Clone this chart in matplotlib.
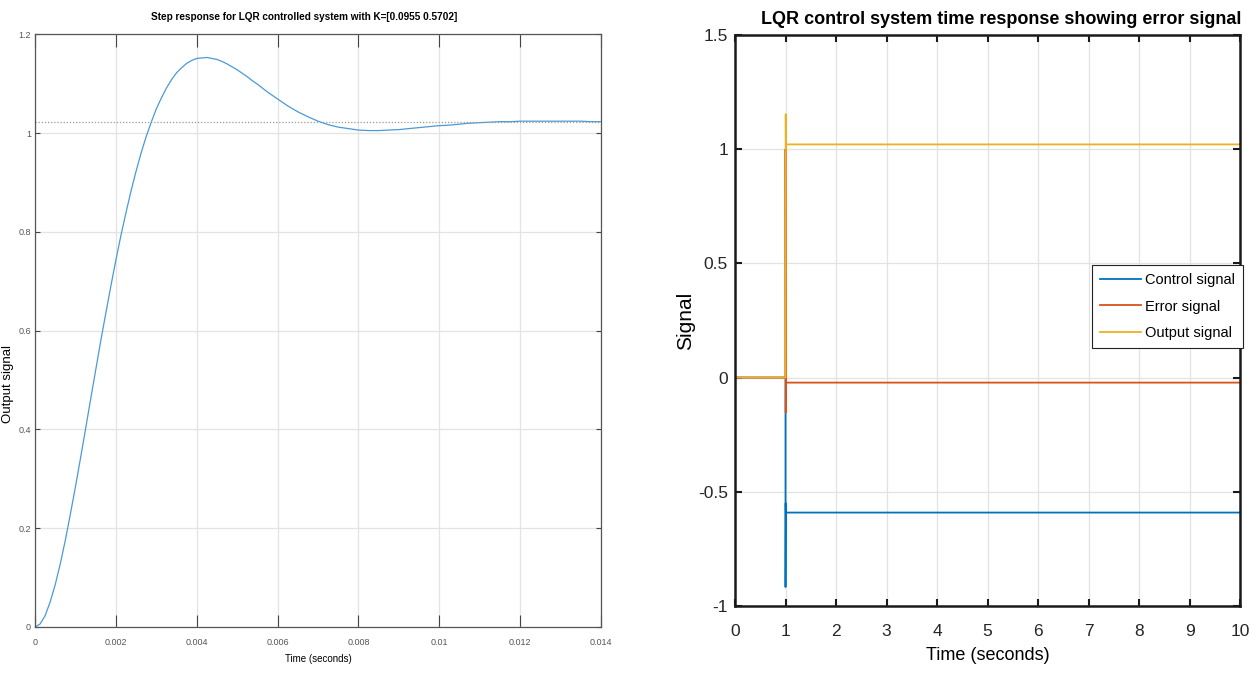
import matplotlib
matplotlib.use("Agg")
import matplotlib.pyplot as plt

plt.rcParams["font.family"] = ["Liberation Sans", "DejaVu Sans"]
plt.rcParams["axes.unicode_minus"] = False

# ---- left panel: step response
# finer spacing on the fast rise, coarser on the tail
step_t = [k * 0.000125 for k in range(49)] + [0.006 + k * 0.00025 for k in range(1, 33)]
step_y = [0.000, 0.006, 0.023, 0.051, 0.086, 0.128, 0.176, 0.229, 0.284, 0.342,
          0.401, 0.461, 0.520, 0.579, 0.635, 0.690, 0.743, 0.793, 0.839, 0.883,
          0.923, 0.960, 0.993, 1.022, 1.049, 1.071, 1.091, 1.108, 1.122, 1.132,
          1.141, 1.147, 1.151, 1.152, 1.153, 1.151, 1.149, 1.145, 1.140, 1.134,
          1.128, 1.121, 1.114, 1.106, 1.099, 1.091, 1.083, 1.076, 1.069,
          1.055, 1.043, 1.033, 1.024, 1.017, 1.012, 1.009, 1.006, 1.005, 1.005,
          1.006, 1.007, 1.009, 1.011, 1.013, 1.015, 1.016, 1.018, 1.020, 1.021,
          1.022, 1.023, 1.023, 1.024, 1.024, 1.024, 1.024, 1.024, 1.024, 1.024,
          1.023, 1.023]
final_value = 1.022
step_xticks = [0, 0.002, 0.004, 0.006, 0.008, 0.01, 0.012, 0.014]
step_xlabels = ["0", "0.002", "0.004", "0.006", "0.008", "0.01", "0.012", "0.014"]
step_yticks = [0, 0.2, 0.4, 0.6, 0.8, 1, 1.2]
step_ylabels = ["0", "0.2", "0.4", "0.6", "0.8", "1", "1.2"]

# ---- right panel: simulated signals
sig_t = [0, 1.0, 1.0, 1.0042, 1.0085, 1.013, 10]
control = [0, 0, -0.917, -0.55, -0.62, -0.591, -0.591]
error = [0, 0, 1.0, -0.153, -0.005, -0.022, -0.022]
output = [0, 0, 0, 1.153, 1.005, 1.021, 1.021]
sig_xticks = list(range(11))
sig_yticks = [-1, -0.5, 0, 0.5, 1, 1.5]
sig_ylabels = ["-1", "-0.5", "0", "0.5", "1", "1.5"]

fig = plt.figure(figsize=(12.56, 6.77), dpi=100)

# left axes
ax1 = fig.add_axes([0.0279, 0.0739, 0.4506, 0.8755])
ax1.plot(step_t, step_y, color="#4a9ad8", lw=0.9)
ax1.axhline(final_value, color="#9a9a9a", lw=0.9, ls=(0, (1, 1.5)))
ax1.set_xlim(0, 0.014)
ax1.set_ylim(0, 1.2)
ax1.set_xticks(step_xticks)
ax1.set_xticklabels(step_xlabels, fontsize=6.5, color="#555555")
ax1.set_yticks(step_yticks)
ax1.set_yticklabels(step_ylabels, fontsize=6.5, color="#555555")
ax1.grid(True, color="#e3e3e3", lw=0.9)
ax1.set_axisbelow(True)
ax1.tick_params(axis="x", direction="in", length=9, width=0.8, color="#444444",
                top=True, pad=8)
ax1.tick_params(axis="y", direction="in", length=3.5, width=0.8, color="#444444",
                right=True, pad=3)
for s in ax1.spines.values():
    s.set_color("#555555")
    s.set_linewidth(0.9)
ax1.set_title("Step response for LQR controlled system with K=[0.0955 0.5702]",
              fontsize=7.2, fontweight="bold", pad=10, x=0.475)
ax1.set_xlabel("Time (seconds)", fontsize=7, labelpad=5)
ax1.set_ylabel("Output signal", fontsize=9.5)
ax1.yaxis.set_label_coords(-0.037, 0.41)

# right axes
ax2 = fig.add_axes([0.5852, 0.1049, 0.4021, 0.8434])
ax2.plot(sig_t, control, color="#0072BD", lw=1.3, label="Control signal")
ax2.plot(sig_t, error, color="#D95319", lw=1.3, label="Error signal")
ax2.plot(sig_t, output, color="#EDB120", lw=1.3, label="Output signal")
ax2.set_xlim(0, 10)
ax2.set_ylim(-1, 1.5)
ax2.set_xticks(sig_xticks)
ax2.set_xticklabels([str(v) for v in sig_xticks], fontsize=12.5, color="#262626")
ax2.set_yticks(sig_yticks)
ax2.set_yticklabels(sig_ylabels, fontsize=12.5, color="#262626")
ax2.grid(True, color="#e2e2e2", lw=0.9)
ax2.set_axisbelow(True)
ax2.tick_params(direction="in", length=5, width=1.5, color="#1a1a1a",
                top=True, right=True)
ax2.tick_params(axis="x", pad=13)
ax2.tick_params(axis="y", pad=5)
for s in ax2.spines.values():
    s.set_color("#1a1a1a")
    s.set_linewidth(1.8)
ax2.set_title("LQR control system time response showing error signal",
              fontsize=13, fontweight="bold", pad=8, x=0.527)
ax2.set_xlabel("Time (seconds)", fontsize=13, labelpad=6)
ax2.set_ylabel("Signal", fontsize=15, labelpad=2)
leg = ax2.legend(loc="upper left", bbox_to_anchor=(0.707, 0.597), fancybox=False,
                 framealpha=1, edgecolor="#222222", prop={"size": 10.5},
                 handlelength=2.8, handletextpad=0.3, borderaxespad=0,
                 labelspacing=0.85, borderpad=0.55)
leg.get_frame().set_linewidth(0.8)

fig.savefig("out.png", dpi=100)
